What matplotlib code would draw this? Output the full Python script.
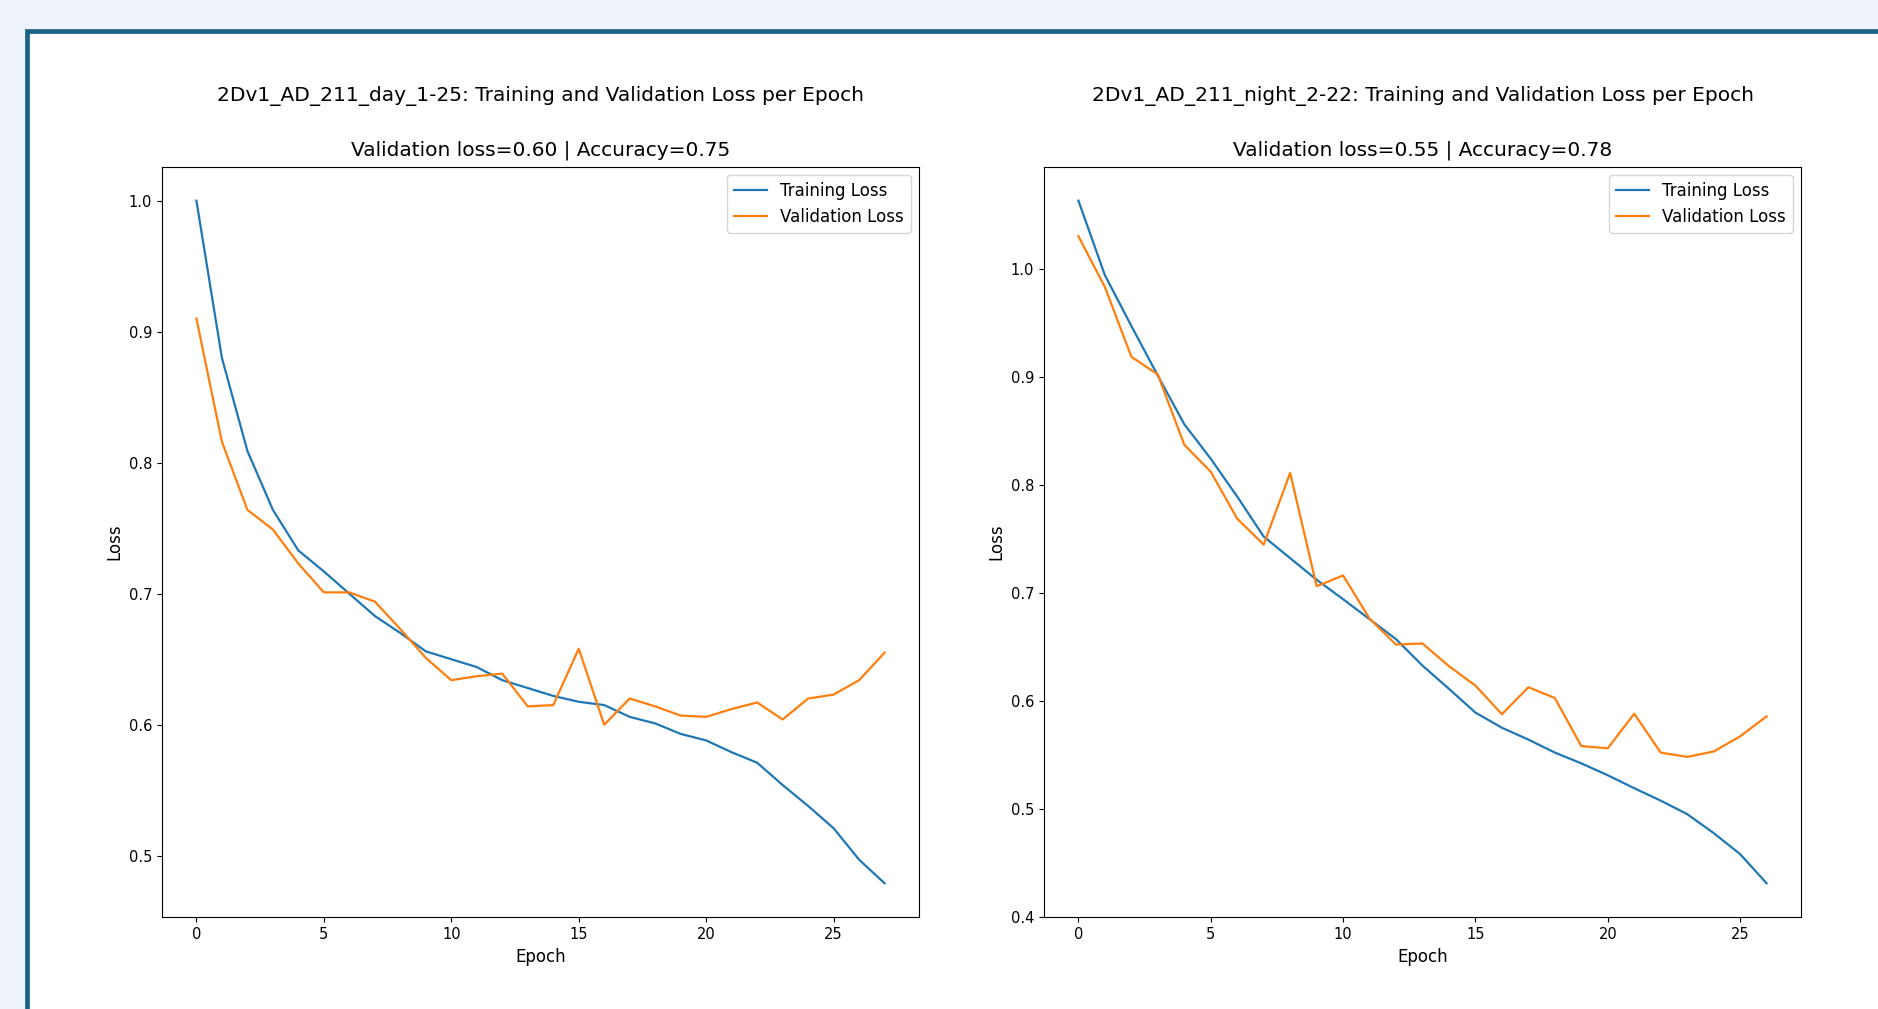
import matplotlib
matplotlib.use("Agg")
import matplotlib.pyplot as plt
from matplotlib.patches import Rectangle

# ---- data ----
day_title = "2Dv1_AD_211_day_1-25: Training and Validation Loss per Epoch"
day_sub = "Validation loss=0.60 | Accuracy=0.75"
day_train = [1.000, 0.880, 0.809, 0.764, 0.733, 0.717, 0.700, 0.683, 0.670, 0.656,
             0.650, 0.644, 0.634, 0.628, 0.622, 0.6175, 0.615, 0.606, 0.601, 0.593,
             0.588, 0.579, 0.571, 0.554, 0.538, 0.521, 0.497, 0.479]
day_val = [0.910, 0.816, 0.764, 0.749, 0.723, 0.701, 0.701, 0.694, 0.673, 0.651,
           0.634, 0.637, 0.639, 0.614, 0.615, 0.658, 0.600, 0.620, 0.614, 0.607,
           0.606, 0.612, 0.617, 0.604, 0.620, 0.623, 0.634, 0.655]

night_title = "2Dv1_AD_211_night_2-22: Training and Validation Loss per Epoch"
night_sub = "Validation loss=0.55 | Accuracy=0.78"
night_train = [1.063, 0.994, 0.947, 0.901, 0.856, 0.824, 0.789, 0.752, 0.732, 0.712,
               0.694, 0.6755, 0.657, 0.6325, 0.611, 0.589, 0.575, 0.564, 0.552, 0.542,
               0.531, 0.519, 0.5075, 0.495, 0.4775, 0.458, 0.431]
night_val = [1.030, 0.983, 0.9185, 0.902, 0.837, 0.812, 0.7685, 0.7445, 0.811, 0.706,
             0.716, 0.676, 0.652, 0.653, 0.632, 0.614, 0.5875, 0.6125, 0.6025, 0.558,
             0.556, 0.588, 0.552, 0.548, 0.553, 0.567, 0.5855]

PANELS = [
    (day_title, day_sub, day_train, day_val),
    (night_title, night_sub, night_train, night_val),
]

W, H = 1878, 1009
BG = "#eef3fa"
FRAME = "#1b6385"

fig = plt.figure(figsize=(W / 100, H / 100), dpi=100, facecolor=BG)

# page frame: white card with a dark blue border, clipped at right / bottom
card = Rectangle((26.5 / W, -0.1), 1.2, 1 - 30.5 / H + 0.1,
                 transform=fig.transFigure, facecolor="white",
                 edgecolor=FRAME, linewidth=3.4, zorder=-5)
fig.patches.append(card)

# axes boxes in pixels (left, right) shared top/bottom
boxes = [(162, 919), (1044, 1801)]
top_px, bot_px = 166.5, 917.4

fs_tick = 10.5
fs_label = 12
fs_title = 14.5

for (title, sub, train, val), (lpx, rpx) in zip(PANELS, boxes):
    ax = fig.add_axes([lpx / W, 1 - bot_px / H, (rpx - lpx) / W, (bot_px - top_px) / H],
                      zorder=2)
    ax.plot(range(len(train)), train, color="#1f77b4", lw=1.6, label="Training Loss")
    ax.plot(range(len(val)), val, color="#ff7f0e", lw=1.6, label="Validation Loss")
    ax.set_title(sub, fontsize=fs_title, pad=8)
    ax.text(0.5, 1 + (166.5 - 96) / (bot_px - top_px), title, transform=ax.transAxes,
            ha="center", va="center", fontsize=fs_title)
    ax.set_xlabel("Epoch", fontsize=fs_label)
    ax.set_ylabel("Loss", fontsize=fs_label)
    ax.tick_params(labelsize=fs_tick)
    ax.legend(loc="upper right", fontsize=fs_label)

fig.savefig("out.png", dpi=100, facecolor=BG)
